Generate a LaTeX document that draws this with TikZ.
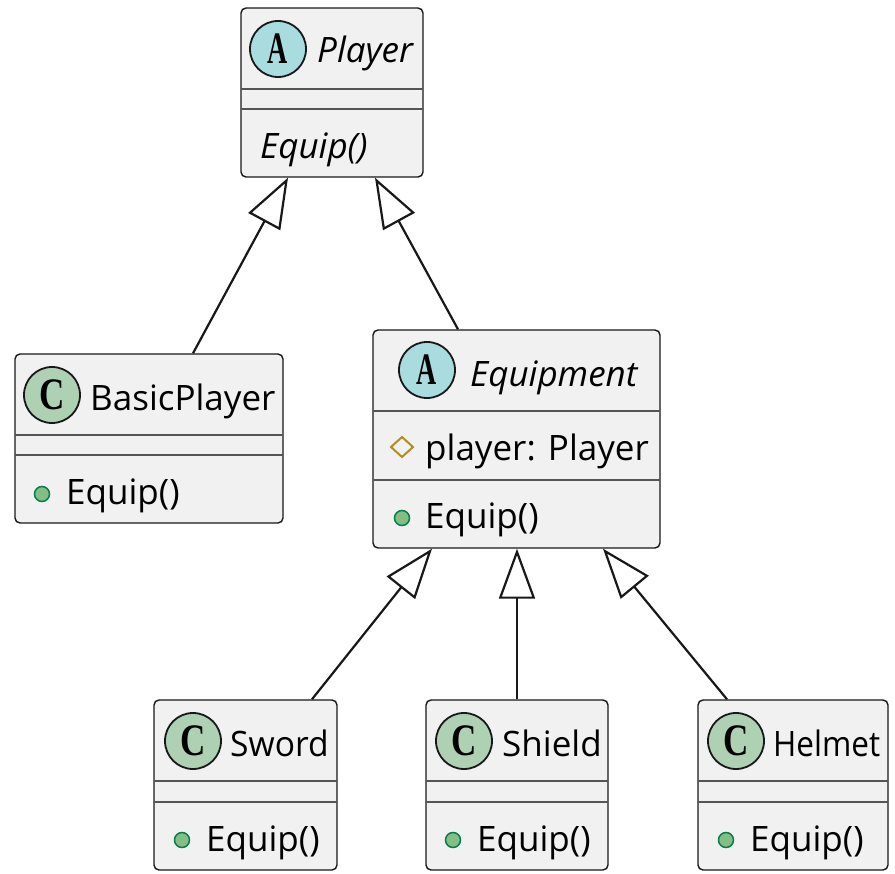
\documentclass[tikz,border=0pt]{standalone}
\usepackage{fontspec}
\setmainfont{Open Sans}
\newfontfamily\lmfont{Liberation Serif}
\usetikzlibrary{arrows.meta,calc}
\definecolor{boxfill}{HTML}{F1F1F1}
\definecolor{boxline}{HTML}{181818}
\definecolor{absfill}{HTML}{A9DCDF}
\definecolor{clsfill}{HTML}{ADD1B2}
\definecolor{protcol}{HTML}{B38D22}
\definecolor{dotfill}{HTML}{84BE84}
\definecolor{dotline}{HTML}{038048}
\definecolor{sepcol}{HTML}{555555}
\tikzset{
  umlbox/.style={draw=boxline, fill=boxfill, line width=1.4pt, rounded corners=5pt, inner sep=0pt},
  sep/.style={draw=sepcol, line width=1.4pt},
  badge/.style={circle, draw=boxline, line width=1.8pt, minimum size=56pt, inner sep=0pt},
  txt/.style={anchor=base west, inner sep=0pt, font=\fontsize{35}{40}\selectfont},
  itxt/.style={txt, font=\fontsize{35}{40}\selectfont\itshape},
  pubdot/.style={circle, fill=dotfill, draw=dotline, line width=1.5pt, minimum size=15pt, inner sep=0pt},
  inherit/.style={draw=boxline, line width=2.2pt, -{Triangle[open, length=50pt, width=36pt, line width=2.2pt]}},
  letter/.style={inner sep=0pt, font=\fontsize{45}{45}\selectfont\lmfont\bfseries}
}
\begin{document}
\begin{tikzpicture}[x=1pt,y=-1pt]
\useasboundingbox (0,0) rectangle (895,874);
% ---- Player ----
\node[umlbox, minimum width=182pt, minimum height=169pt] (player) at (332,92.5) {};
\draw[sep] (241,89) -- (423,89);
\draw[sep] (241,109) -- (423,109);
\node[badge, fill=absfill] (playerB) at (278,49) {};
\node[letter] at (playerB) {\scalebox{0.62}[1]{A}};
\node[itxt] (playerT) at (317,63) {Player};
\node[itxt] (playerM) at (260,159) {Equip()};
% ---- BasicPlayer ----
\node[umlbox, minimum width=268pt, minimum height=169pt] (basic) at (149,438.5) {};
\draw[sep] (15,435) -- (283,435);
\draw[sep] (15,455) -- (283,455);
\node[badge, fill=clsfill] (basicB) at (52,395) {};
\node[letter] at (basicB) {\scalebox{0.78}[1]{C}};
\node[txt] (basicT) at (90,411) {BasicPlayer};
\node[pubdot] (basicD) at (42,494) {};
\node[txt] (basicM) at (66,505) {Equip()};
% ---- Equipment ----
\node[umlbox, minimum width=287pt, minimum height=218pt] (equip) at (516.5,439) {};
\draw[sep] (373,411) -- (660,411);
\draw[sep] (373,480) -- (660,480);
\node[badge, fill=absfill] (equipB) at (427,370) {};
\node[letter] at (equipB) {\scalebox{0.62}[1]{A}};
\node[itxt] (equipT) at (470,387) {Equipment};
\draw[protcol, line width=2pt] (391,447) -- (402,437) -- (413,447) -- (402,457) -- cycle;
\node[txt] (equipF) at (425,461) {player: Player};
\node[pubdot] (equipD) at (402,518) {};
\node[txt] (equipM) at (425,529) {Equip()};
% ---- Sword ----
\node[umlbox, minimum width=183pt, minimum height=170pt] (sword) at (245.5,785) {};
\draw[sep] (154,781) -- (337,781);
\draw[sep] (154,802) -- (337,802);
\node[badge, fill=clsfill] (swordB) at (193,741) {};
\node[letter] at (swordB) {\scalebox{0.78}[1]{C}};
\node[txt] (swordT) at (230,756) {\scalebox{0.96}[1]{Sword}};
\node[pubdot] (swordD) at (182,840) {};
\node[txt] (swordM) at (206,851) {Equip()};
% ---- Shield ----
\node[umlbox, minimum width=182pt, minimum height=170pt] (shield) at (517,785) {};
\draw[sep] (426,781) -- (608,781);
\draw[sep] (426,802) -- (608,802);
\node[badge, fill=clsfill] (shieldB) at (464,741) {};
\node[letter] at (shieldB) {\scalebox{0.78}[1]{C}};
\node[txt] (shieldT) at (502,756) {Shield};
\node[pubdot] (shieldD) at (453,840) {};
\node[txt] (shieldM) at (477,851) {Equip()};
% ---- Helmet ----
\node[umlbox, minimum width=190pt, minimum height=170pt] (helmet) at (793,785) {};
\draw[sep] (698,781) -- (888,781);
\draw[sep] (698,802) -- (888,802);
\node[badge, fill=clsfill] (helmetB) at (736,741) {};
\node[letter] at (helmetB) {\scalebox{0.78}[1]{C}};
\node[txt] (helmetT) at (773,756) {\scalebox{0.9}[1]{Helmet}};
\node[pubdot] (helmetD) at (726,840) {};
\node[txt] (helmetM) at (750,851) {Equip()};
% ---- connectors ----
\draw[inherit] ([xshift=44pt]basic.north) -- ([xshift=-44pt]player.south);
\draw[inherit] ([xshift=-58.5pt]equip.north) -- ([xshift=43pt]player.south);
\draw[inherit] ([xshift=66.5pt]sword.north) -- ([xshift=-84.5pt]equip.south);
\draw[inherit] (shield.north) -- (shield.north |- equip.south);
\draw[inherit] ([xshift=-66pt]helmet.north) -- ([xshift=86.5pt]equip.south);
\end{tikzpicture}
\end{document}
